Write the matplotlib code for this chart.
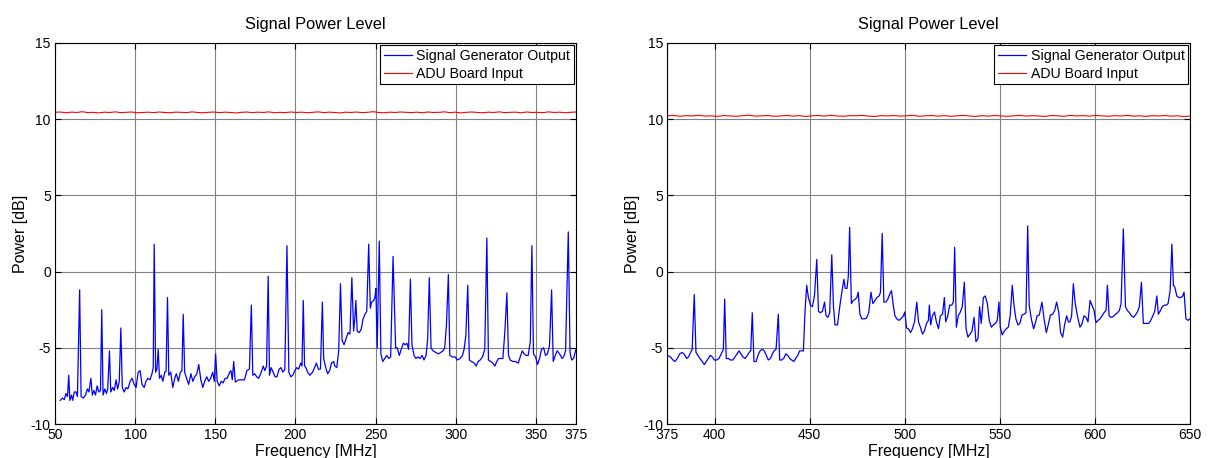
import numpy as np
import matplotlib.pyplot as plt

plt.rcParams['font.family'] = ['Liberation Sans', 'DejaVu Sans']
plt.rcParams['axes.unicode_minus'] = False

# Low band sweep, 50-375 MHz
freq_lo = [53.3, 54.7, 55.8, 56.8, 57.8, 58.6, 59.3, 60.3, 61.1, 62.0, 63.2, 64.0, 65.4, 66.3,
           67.7, 69.1, 70.2, 71.2, 72.4, 73.3, 74.3, 75.3, 76.3, 77.4, 78.4, 79.2, 80.0, 81.1,
           82.1, 82.9, 84.0, 84.8, 86.0, 87.0, 88.1, 89.1, 90.1, 91.1, 92.0, 93.2, 94.4, 95.5,
           96.9, 98.1, 99.4, 100.6, 101.9, 103.1, 104.3, 105.6, 106.8, 108.0, 109.3, 110.5,
           111.3, 111.9, 112.8, 113.6, 114.4, 115.2, 116.3, 117.3, 118.5, 119.3, 120.2, 121.0,
           122.2, 123.5, 124.7, 125.7, 127.0, 128.2, 129.2, 130.0, 130.9, 132.1, 133.4, 134.8,
           136.0, 137.2, 138.5, 139.7, 141.0, 142.2, 143.4, 144.7, 145.9, 147.1, 148.4, 149.4,
           150.2, 151.2, 152.5, 153.7, 154.9, 156.2, 157.4, 159.0, 159.8, 160.6, 161.5, 162.5,
           164.5, 166.6, 168.2, 169.7, 171.3, 172.5, 173.4, 174.6, 175.8, 177.0, 178.3, 179.9,
           180.9, 182.0, 183.0, 183.8, 184.8, 186.1, 187.3, 188.5, 189.8, 191.0, 192.2, 193.4,
           194.7, 195.9, 197.1, 198.4, 199.6, 200.8, 202.0, 203.3, 204.1, 204.9, 205.7, 206.5,
           207.6, 209.0, 210.7, 211.9, 213.1, 214.3, 215.6, 216.8, 217.6, 218.9, 220.1, 221.3,
           222.5, 223.8, 224.6, 225.8, 227.0, 228.1, 229.1, 230.3, 231.6, 232.8, 234.0, 235.2,
           236.3, 237.1, 237.7, 238.5, 239.8, 241.0, 242.2, 243.4, 244.5, 245.7, 246.7, 247.5,
           248.8, 249.6, 250.2, 251.0, 252.3, 253.3, 254.5, 255.7, 257.0, 258.2, 259.4, 260.9,
           262.5, 263.5, 264.8, 266.0, 267.3, 268.5, 269.5, 270.6, 271.7, 272.7, 274.0, 275.2,
           276.5, 277.7, 279.0, 280.2, 281.5, 282.5, 283.5, 284.6, 285.8, 287.5, 289.2, 290.6,
           292.1, 293.1, 294.2, 295.4, 296.3, 297.9, 299.6, 301.0, 302.7, 304.2, 305.2, 306.3,
           307.5, 308.5, 309.8, 311.5, 312.7, 314.0, 315.2, 316.7, 318.1, 319.4, 320.4, 321.9,
           323.1, 324.4, 325.6, 326.7, 328.1, 329.4, 330.6, 331.9, 332.9, 334.0, 335.6, 337.3,
           339.0, 340.2, 341.5, 342.7, 344.0, 345.2, 346.5, 347.5, 348.5, 349.8, 351.0, 352.3,
           353.5, 354.8, 356.0, 357.2, 358.5, 359.8, 360.8, 362.1, 363.3, 364.8, 366.3, 367.3,
           368.5, 370.2, 371.3, 372.3, 373.5, 375.0]
gen_lo = [-8.45, -8.3, -8.4, -8.0, -8.2, -6.8, -8.45, -8.1, -8.45, -7.9, -7.9, -8.2, -1.2, -8.2,
          -8.3, -8.1, -7.7, -7.9, -7.0, -8.1, -7.8, -8.1, -7.5, -7.9, -7.8, -2.5, -8.1, -7.7,
          -8.0, -7.7, -5.2, -7.9, -7.6, -7.8, -7.1, -7.7, -7.2, -3.7, -7.6, -7.9, -7.6, -7.7,
          -7.2, -7.0, -7.4, -7.6, -6.6, -6.5, -7.4, -7.6, -7.2, -7.0, -7.1, -6.7,
          -6.3, 1.8, -6.6, -6.4, -5.1, -7.0, -6.8, -7.2, -6.6, -6.55, -1.7, -6.8,
          -6.6, -7.6, -7.0, -6.7, -7.2, -6.6, -6.5, -2.8, -6.6, -7.0, -7.4, -6.7,
          -7.2, -6.9, -6.7, -6.1, -7.1, -7.6, -7.2, -6.9, -7.2, -7.0, -6.6, -7.2,
          -5.4, -7.2, -7.5, -7.2, -7.3, -7.0, -7.0, -6.6, -6.5, -7.1, -5.9, -7.25,
          -7.1, -7.1, -7.1, -6.5, -6.4, -2.2, -6.8, -6.7, -6.9, -7.0, -6.7, -6.2,
          -6.5, -6.2, -0.3, -6.8, -6.3, -6.6, -6.9, -6.9, -6.4, -6.3, -6.6, -6.4,
          1.7, -6.6, -6.9, -6.8, -6.5, -6.3, -6.4, -6.0, -6.2, -1.9, -6.2, -6.3,
          -6.6, -6.8, -6.6, -6.3, -6.0, -6.4, -6.4, -2.0, -5.7, -6.3, -6.7, -6.5,
          -6.0, -5.9, -6.2, -6.3, -5.2, -0.8, -4.5, -4.8, -4.4, -4.0, -4.1, -0.4,
          -3.9, -3.0, -1.9, -3.9, -4.0, -3.8, -3.1, -2.8, -2.6, 1.8, -2.4, -2.0,
          -1.9, -1.7, -1.1, -5.0, 2.0, -5.4, -5.9, -5.7, -5.5, -5.7, -5.6, 1.0,
          -5.0, -5.0, -5.5, -5.1, -4.7, -4.8, -4.7, -5.1, -0.5, -4.8, -5.5, -5.7,
          -5.6, -5.7, -5.5, -5.8, -5.5, -4.4, -0.4, -5.0, -5.2, -5.3, -5.4, -5.3,
          -5.2, -5.0, -3.5, -0.2, -5.5, -5.6, -5.6, -5.8, -5.7, -5.5, -5.1, -4.2,
          -0.9, -5.8, -5.9, -6.0, -6.2, -5.9, -5.8, -5.6, -5.1, 2.2, -5.8, -5.9,
          -6.0, -6.2, -5.9, -5.7, -5.7, -5.7, -4.0, -1.4, -5.5, -5.8, -5.9, -5.9,
          -6.0, -5.6, -5.2, -5.4, -5.5, -5.5, -4.6, 1.7, -5.4, -5.6, -6.1, -5.7,
          -5.1, -5.0, -5.5, -5.4, -4.85, -1.2, -5.9, -5.5, -5.2, -5.4, -5.7, -5.6,
          -5.2, 2.6, -5.3, -5.8, -5.7, -5.1]
adu_lo = [10.45, 10.47, 10.42, 10.46, 10.44, 10.49, 10.43, 10.45, 10.41, 10.46, 10.44, 10.48,
          10.43, 10.45, 10.47, 10.42, 10.44, 10.46, 10.43, 10.47, 10.44, 10.42, 10.46, 10.45,
          10.43, 10.48, 10.44, 10.42, 10.45, 10.47, 10.43, 10.46, 10.44, 10.41, 10.45, 10.47,
          10.43, 10.46, 10.44, 10.48, 10.42, 10.45, 10.43, 10.47, 10.44, 10.46, 10.42, 10.45,
          10.48, 10.43, 10.46, 10.44, 10.41, 10.46, 10.44, 10.47, 10.43, 10.45, 10.49, 10.44,
          10.42, 10.46, 10.44, 10.47, 10.45, 10.43, 10.46, 10.42, 10.47, 10.44, 10.45, 10.48,
          10.43, 10.46, 10.41, 10.45, 10.47, 10.44, 10.42, 10.46, 10.44, 10.48, 10.43, 10.45,
          10.46, 10.42, 10.47, 10.44, 10.45, 10.43, 10.48, 10.44, 10.46, 10.42, 10.45, 10.47]

# High band sweep, 375-650 MHz
freq_hi = [375.3, 376.8, 378.1, 379.1, 380.4, 381.6, 383.0, 384.2, 385.3, 386.3, 387.4, 388.2,
           389.3, 390.2, 391.2, 392.3, 393.5, 394.6, 395.6, 396.7, 397.7, 398.8, 399.8, 401.1,
           402.3, 403.5, 404.6, 405.3, 406.1, 407.2, 408.4, 409.6, 410.7, 411.8, 412.8, 413.9,
           414.9, 416.0, 417.2, 418.2, 419.0, 419.8, 420.7, 421.8, 422.8, 423.9, 425.1, 426.1,
           427.2, 428.2, 429.3, 430.4, 431.2, 432.3, 433.5, 434.2, 435.3, 436.3, 437.4, 438.4,
           439.5, 440.5, 441.6, 442.6, 443.7, 444.7, 445.8, 446.7, 447.5, 448.4, 449.3, 450.4,
           451.4, 452.5, 453.7, 454.6, 455.6, 456.7, 457.8, 458.6, 459.6, 460.5, 461.6, 462.5,
           463.3, 464.6, 465.9, 467.0, 468.0, 468.7, 469.6, 470.3, 471.0, 471.9, 472.9, 474.0,
           474.8, 475.5, 476.4, 477.4, 478.8, 479.9, 481.1, 482.2, 483.2, 484.3, 485.3, 486.5,
           487.2, 488.1, 489.0, 490.0, 491.1, 492.0, 493.0, 493.9, 494.8, 495.8, 496.9, 497.9,
           499.3, 500.0, 500.9, 501.9, 503.0, 504.0, 505.1, 506.3, 507.2, 508.2, 509.3, 510.3,
           511.4, 512.4, 512.9, 513.6, 514.5, 515.6, 516.6, 517.7, 518.7, 519.8, 520.8, 521.5,
           522.6, 523.6, 524.7, 525.5, 526.2, 527.1, 528.1, 529.2, 530.2, 531.3, 532.2, 533.2,
           534.3, 535.3, 536.4, 537.4, 538.5, 539.3, 540.2, 541.3, 542.3, 543.4, 544.4, 545.5,
           546.5, 547.6, 548.6, 549.5, 550.2, 551.2, 552.3, 553.3, 554.4, 555.4, 556.5, 557.4,
           558.4, 559.5, 560.5, 561.6, 562.6, 563.7, 564.6, 565.4, 566.5, 567.7, 568.8, 569.6,
           570.7, 572.1, 573.2, 574.4, 575.4, 576.5, 577.7, 578.8, 579.8, 580.9, 581.9, 583.0,
           584.0, 585.1, 586.0, 586.8, 587.7, 588.6, 589.6, 590.9, 592.1, 593.2, 594.2, 595.3,
           596.3, 597.4, 598.4, 599.5, 600.5, 601.6, 602.6, 603.7, 604.7, 605.8, 606.5, 607.4,
           608.4, 609.6, 610.7, 611.8, 612.8, 613.7, 614.9, 616.0, 617.0, 618.1, 619.1, 620.2,
           621.2, 622.3, 623.3, 624.4, 625.4, 626.8, 628.2, 629.3, 630.4, 631.4, 632.5, 633.3,
           634.4, 635.4, 636.5, 637.5, 638.4, 639.5, 640.4, 641.2, 641.9, 643.0, 644.0, 645.1,
           646.1, 646.8, 647.8, 648.9, 649.9]
gen_hi = [-5.5, -5.6, -5.8, -5.9, -5.7, -5.4, -5.3, -5.45, -5.7, -5.6, -5.3, -5.1,
          -1.5, -5.3, -5.5, -5.7, -5.9, -6.1, -5.9, -5.7, -5.5, -5.6, -5.8, -5.8,
          -5.7, -5.4, -5.1, -1.8, -5.7, -5.7, -5.8, -5.8, -5.6, -5.4, -5.2, -5.4,
          -5.6, -5.7, -5.5, -5.3, -5.2, -2.7, -5.9, -5.9, -5.5, -5.2, -5.1, -5.2,
          -5.5, -5.8, -5.7, -5.4, -5.2, -5.1, -2.8, -5.8, -5.8, -5.7, -5.4, -5.5,
          -5.7, -5.8, -5.9, -5.7, -5.5, -5.2, -5.2, -5.2, -2.7, -0.9, -1.7, -2.2,
          -2.3, -1.6, 0.8, -2.6, -2.7, -2.6, -2.0, -2.9, -3.0, -2.7, 1.1, -2.3,
          -3.5, -3.5, -2.2, -1.25, -0.5, -1.1, -1.1, -0.3, 2.9, -2.1, -1.9, -1.8,
          -1.7, -1.35, -2.8, -3.1, -3.1, -3.05, -2.65, -1.35, -2.1, -1.9, -1.7, -1.6,
          -1.35, 2.5, -2.0, -2.0, -1.8, -1.5, -1.25, -2.2, -2.9, -3.1, -3.2, -3.1,
          -2.9, -2.65, -3.7, -3.75, -4.0, -3.75, -3.3, -2.0, -3.3, -3.65, -4.1, -3.9,
          -3.4, -3.2, -2.2, -3.5, -2.9, -2.65, -3.3, -3.75, -2.9, -2.8, -1.7, -3.3,
          -2.9, -2.2, -2.2, -2.0, 1.6, -3.65, -2.9, -2.65, -2.3, -0.7, -3.75, -4.3,
          -4.1, -3.9, -3.0, -4.6, -4.4, -2.3, -3.4, -1.7, -1.6, -2.1, -3.2, -3.65,
          -3.5, -3.4, -3.2, -2.0, -3.65, -4.15, -3.9, -3.75, -3.65, -2.9, -0.9, -2.2,
          -3.1, -3.5, -3.4, -2.85, -2.8, -2.7, 3.0, -2.2, -3.1, -3.75, -3.3, -2.9,
          -2.85, -2.0, -3.1, -4.0, -3.5, -2.85, -2.8, -2.55, -2.0, -2.65, -4.0, -4.3,
          -3.5, -2.9, -3.3, -3.3, -2.9, -0.8, -2.1, -3.0, -3.65, -3.4, -2.9, -3.0,
          -3.3, -1.9, -2.2, -2.55, -3.35, -3.2, -3.1, -2.9, -2.7, -2.55, -0.9, -2.9,
          -3.0, -2.95, -2.8, -2.7, -2.55, -2.1, 2.8, -2.3, -2.55, -2.7, -2.9, -3.0,
          -2.85, -2.65, -2.3, -0.7, -3.4, -3.4, -3.4, -3.2, -2.9, -2.6, -1.6, -2.8,
          -2.55, -2.3, -2.2, -2.2, -2.1, -1.25, 1.8, -0.9, -1.0, -1.6, -1.7, -1.7,
          -1.6, -1.35, -3.1, -3.2, -3.1]
adu_hi = [10.22, 10.25, 10.19, 10.23, 10.21, 10.26, 10.2, 10.22, 10.18, 10.24, 10.21, 10.19,
          10.23, 10.26, 10.2, 10.22, 10.24, 10.19, 10.21, 10.25, 10.2, 10.23, 10.18, 10.22,
          10.24, 10.2, 10.26, 10.21, 10.19, 10.23, 10.22, 10.25, 10.2, 10.18, 10.23, 10.21,
          10.24, 10.2, 10.22, 10.26, 10.19, 10.22, 10.24, 10.2, 10.23, 10.19, 10.22, 10.25,
          10.21, 10.18, 10.23, 10.2, 10.24, 10.21, 10.19, 10.22, 10.25, 10.2, 10.23, 10.21,
          10.18, 10.24, 10.22, 10.19, 10.25, 10.21, 10.23, 10.2, 10.24, 10.22, 10.19, 10.23,
          10.21, 10.25, 10.2, 10.22, 10.18, 10.23, 10.21, 10.24, 10.2, 10.22, 10.17, 10.21]

panels = [
    (freq_lo, gen_lo, adu_lo, (50, 375), [50, 100, 150, 200, 250, 300, 350, 375]),
    (freq_hi, gen_hi, adu_hi, (375, 650), [375, 400, 450, 500, 550, 600, 650]),
]
rects = [[0.0455, 0.0742, 0.4313, 0.832], [0.5522, 0.0742, 0.433, 0.832]]

fig = plt.figure(figsize=(12.08, 4.58), dpi=100)
for (f, gen, adu, xlim, xt), rect in zip(panels, rects):
    ax = fig.add_axes(rect)
    ax.plot(f, gen, color='#0000ff', lw=0.9, label='Signal Generator Output')
    ax.plot(np.linspace(xlim[0], xlim[1], len(adu)), adu, color='#ff0000', lw=0.8,
            label='ADU Board Input')
    ax.set_xlim(*xlim)
    ax.set_ylim(-10, 15)
    ax.set_xticks(xt)
    ax.set_yticks([-10, -5, 0, 5, 10, 15])
    ax.grid(True, color='#808080', lw=0.8)
    ax.tick_params(direction='in', length=4, top=True, right=True, labelsize=10, pad=3)
    for s in ax.spines.values():
        s.set_linewidth(0.8)
    ax.set_title('Signal Power Level', fontsize=11.8, pad=10)
    ax.set_xlabel('Frequency [MHz]', fontsize=11.5, labelpad=1.5)
    ax.set_ylabel('Power [dB]', fontsize=11.5, labelpad=2)
    leg = ax.legend(loc='upper right', fontsize=10.2, fancybox=False, framealpha=1,
                    edgecolor='black', borderaxespad=0.15, handlelength=2.0,
                    handletextpad=0.3, labelspacing=0.3, borderpad=0.25)
    leg.get_frame().set_linewidth(0.8)

fig.savefig('out.png', dpi=100)
